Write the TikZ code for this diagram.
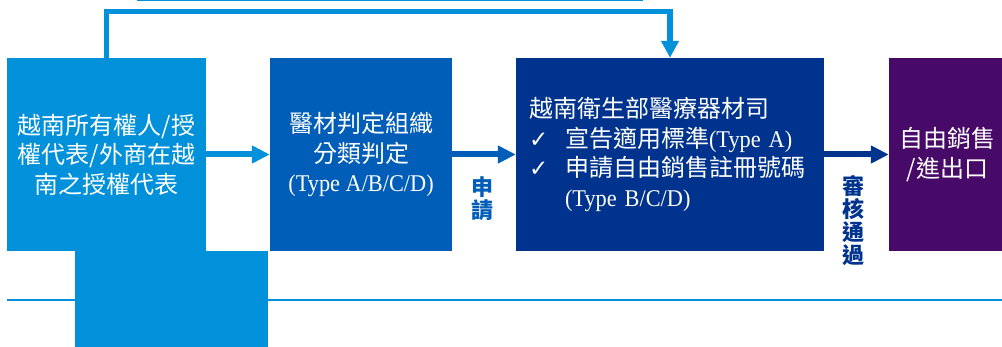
\documentclass[tikz,border=0pt]{standalone}
\usepackage{fontspec}
\setmainfont{Liberation Serif}
\newfontfamily\cjk{Noto Sans CJK TC}
\newfontfamily\lat[FakeStretch=0.93]{Liberation Serif}
\newfontfamily\sym{DejaVu Sans}
\usetikzlibrary{arrows.meta}
\definecolor{cA}{HTML}{0091DA}
\definecolor{cB}{HTML}{005EB8}
\definecolor{cC}{HTML}{00338D}
\definecolor{cD}{HTML}{470A68}
\newcommand{\chk}{\makebox[36pt][l]{\sym\fontsize{23}{23}\selectfont ✓}}
\begin{document}
\begin{tikzpicture}[x=1pt,y=-1pt,
  box/.style={rectangle, inner sep=0pt, text=white, minimum height=193pt,
    font=\cjk\fontsize{24}{29.5}\selectfont, align=center},
  lab/.style={inner sep=0pt, align=center, font=\cjk\bfseries\fontsize{22}{23}\selectfont},
  flow/.style={line width=6pt, -{Triangle[length=18pt,width=17pt]}},
  rule/.style={cA, line width=2.5pt}]
\useasboundingbox (0,0) rectangle (1002,347);
% bottom rule
\coordinate (bl1) at (7,300);
\coordinate (bl2) at (1002,300);
\draw[rule] (bl1) -- (bl2);
% thin top line
\coordinate (t1) at (137,0.7);
\coordinate (t2) at (643,0.7);
\draw[cA, line width=1.4pt] (t1) -- (t2);
% boxes
\node[box, fill=cA, minimum width=193pt, minimum height=96pt] (tab) at (171.5,299) {};
\node[box, fill=cA, minimum width=199pt] (b1) at (106.5,154.5)
  {越南所有權人/授\\權代表/外商在越\\南之授權代表};
\node[box, fill=cB, minimum width=182pt] (b2) at (361,154.5)
  {醫材判定組織\\分類判定\\{\lat (Type A/B/C/D)}};
\node[box, fill=cC, minimum width=308pt, text width=282pt, align=left] (b3) at (670,154.5)
  {越南衛生部醫療器材司\\\chk 宣告適用標準{\lat (Type A)}\\\chk 申請自由銷售註冊號碼\\\hspace*{36pt}{\lat (Type B/C/D)}};
\node[box, fill=cD, minimum width=113pt] (b4) at (945.5,154.5)
  {\hspace*{4pt}自由銷售\\\hspace*{4pt}/進出口};
% connectors
\draw[flow, cA] (b1) -- (b2);
\draw[flow, cB] (b2) -- (b3);
\draw[flow, cC] (b3) -- (b4);
\coordinate (topy) at (0,11.5);
\draw[cA, line width=5.5pt, -{Triangle[length=17pt,width=17pt]}]
  (b1.north) -- (b1.north |- topy) -| (b3.north);
% labels
\node[lab, text=cB] (l1) at (482,199) {申\\請};
\node[lab, text=cC] (l2) at (853,221) {審\\核\\通\\過};
\end{tikzpicture}
\end{document}
